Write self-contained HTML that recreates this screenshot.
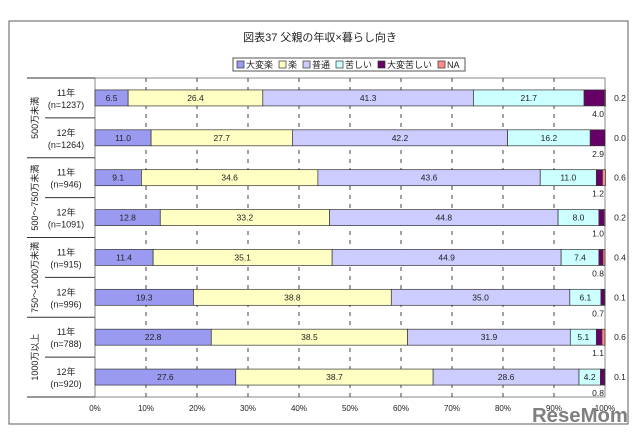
<!DOCTYPE html>
<html><head><meta charset="utf-8"><style>
body{margin:0;background:#fff;}
svg{display:block;font-family:"Liberation Sans","Noto Sans CJK JP",sans-serif;}
</style></head><body>
<svg id="chart" width="640" height="436" xmlns="http://www.w3.org/2000/svg">
<rect x="9" y="21" width="619" height="403" fill="#fff" stroke="#777" stroke-width="1.2"/>
<text x="320" y="41" font-size="11" text-anchor="middle" fill="#222">図表37 父親の年収×暮らし向き</text>
<g id="legend">
<rect x="233" y="58" width="232" height="13" fill="#fff" stroke="#555"/>
</g>
<g id="grid"></g>
<g id="bars"></g>
<g id="labels"></g>
<text x="628" y="422" font-size="20" font-weight="bold" fill="#808080" text-anchor="end" textLength="96" lengthAdjust="spacingAndGlyphs">ReseMom</text>
</svg>
<script>
const series = ["大変楽","楽","普通","苦しい","大変苦しい","NA"];
const colors = ["#9a9af0","#ffffc4","#ccccff","#ccffff","#660066","#ff8a8a"];
const years = ["11年","12年","11年","12年","11年","12年","11年","12年"];
const ns = ["(n=1237)","(n=1264)","(n=946)","(n=1091)","(n=915)","(n=996)","(n=788)","(n=920)"];
const groups = ["500万未満","500～750万未満","750～1000万未満","1000万以上"];
const s1 = [6.5,11.0,9.1,12.8,11.4,19.3,22.8,27.6];
const s2 = [26.4,27.7,34.6,33.2,35.1,38.8,38.5,38.7];
const s3 = [41.3,42.2,43.6,44.8,44.9,35.0,31.9,28.6];
const s4 = [21.7,16.2,11.0,8.0,7.4,6.1,5.1,4.2];
const s5 = [4.0,2.9,1.2,1.0,0.8,0.7,1.1,0.8];
const s6 = [0.2,0.0,0.6,0.2,0.4,0.1,0.6,0.1];
const ticks = [0,10,20,30,40,50,60,70,80,90,100];
const vals = [s1,s2,s3,s4,s5,s6];
const NS="http://www.w3.org/2000/svg";
const X0=95,X1=605,Y0=78,Y1=397,RH=(Y1-Y0)/8,BH=16;
const x=v=>X0+(X1-X0)*v/100;
const yc=i=>Y0+RH*(i+0.5);
function mk(tag,attrs,parent,txt){const e=document.createElementNS(NS,tag);for(const k in attrs)e.setAttribute(k,attrs[k]);if(txt!==undefined)e.textContent=txt;parent.appendChild(e);return e;}
const G=document.getElementById('grid'),B=document.getElementById('bars'),L=document.getElementById('labels'),LG=document.getElementById('legend');
let lx=237;
series.forEach((s,k)=>{
  const r=mk('rect',{x:lx,y:61,width:7,height:7,fill:colors[k],stroke:'#333','stroke-width':0.7},LG);
  
  
  const t=mk('text',{x:lx+9,y:68,'font-size':9,fill:'#222'},LG,s);
  
  
  lx+=9+s.length*9+(s==="NA"?-2:6);
});
let e=mk('rect',{x:X0,y:Y0,width:X1-X0,height:Y1-Y0,fill:'none',stroke:'#888'},G);


ticks.forEach(t=>{
  if(t>0&&t<100){const l=mk('line',{x1:x(t),x2:x(t),y1:Y0,y2:Y1,stroke:'#333','stroke-dasharray':'4,5','stroke-width':0.9},G);
  
  }
  const tx=mk('text',{x:x(t),y:411,'font-size':8,'text-anchor':'middle',fill:'#222'},G,t+'%');
  
  
});
for(let i=0;i<=8;i++){
  const y=Y0+RH*i;
  const full=(i%2===0);
  const l=mk('line',{x1:full?27:45,x2:X0,y1:y,y2:y,stroke:'#333','stroke-width':0.9},G);
  
  
}
groups.forEach((g,j)=>{
  const cy=Y0+RH*(2*j+1);
  const t=mk('text',{x:0,y:0,'font-size':9,'text-anchor':'middle',fill:'#222',transform:`translate(38,${cy}) rotate(-90)`},L,g);
  
  
});
years.forEach((yv,i)=>{
  const t=mk('text',{x:66,y:yc(i)-2,'font-size':9,'text-anchor':'middle',fill:'#222'},L,yv);
  
  
  const t2=mk('text',{x:66,y:yc(i)+10,'font-size':9,'text-anchor':'middle',fill:'#222'},L,ns[i]);
  
  
  let acc=0;
  vals.forEach((arr,k)=>{
    const v=arr[i];
    const r=mk('rect',{x:x(acc),y:yc(i)-BH/2,width:Math.max(0,x(acc+v)-x(acc)),height:BH,fill:colors[k],stroke:'#333','stroke-width':0.7},B);
    
    
    if(k<4){
      const t=mk('text',{x:(x(acc)+x(acc+v))/2,y:yc(i)+3,'font-size':8.5,'text-anchor':'middle',fill:'#222'},L,v.toFixed(1));
      
      
    }else if(k===4){
      const t=mk('text',{x:x(100)-1,y:yc(i)+19,'font-size':8.5,'text-anchor':'end',fill:'#222'},L,v.toFixed(1));
      
      
    }else{
      const t=mk('text',{x:x(100)+15,y:yc(i)+3,'font-size':8.5,'text-anchor':'middle',fill:'#222'},L,v.toFixed(1));
      
      
    }
    acc+=v;
  });
});
</script>
</body></html>
